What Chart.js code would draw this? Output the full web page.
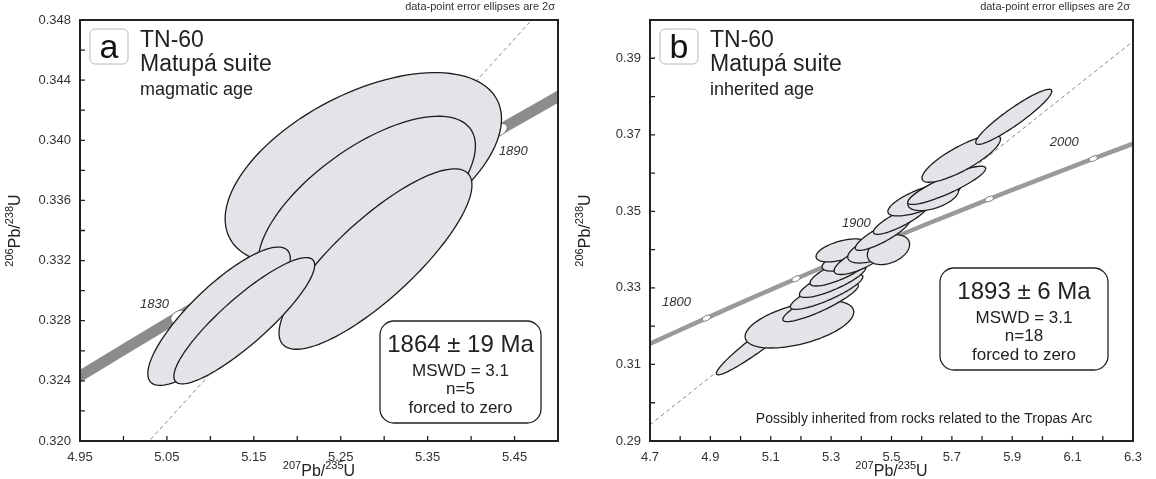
<!DOCTYPE html>
<html>
<head>
<meta charset="utf-8">
<script src="https://cdn.jsdelivr.net/npm/chart.js@4.4.1/dist/chart.umd.min.js"></script>
<style>
  body { margin: 0; background: #fff; width: 1156px; height: 479px; overflow: hidden; position: relative; }
  .panel { position: absolute; top: 0; height: 479px; }
  #panel-a { left: 0; width: 578px; }
  #panel-b { left: 560px; width: 596px; }
</style>
</head>
<body>
<div class="panel" id="panel-a"><canvas id="chart-a" width="578" height="479"></canvas></div>
<div class="panel" id="panel-b"><canvas id="chart-b" width="596" height="479"></canvas></div>
<script>
// concordia (Ma -> 207Pb/235U, 206Pb/238U)
const concordiaAge = [1760, 1780, 1800, 1820, 1830, 1840, 1850, 1860, 1880, 1890, 1900, 1920, 1940, 1950, 1960, 1980, 2000, 2020];
const concordiaX = [4.6595, 4.7721, 4.8869, 5.004, 5.0634, 5.1234, 5.184, 5.2452, 5.3695, 5.4325, 5.4962, 5.6254, 5.7572, 5.824, 5.8916, 6.0287, 6.1685, 6.3111];
const concordiaY = [0.31393, 0.31801, 0.32211, 0.32621, 0.32827, 0.33033, 0.3324, 0.33447, 0.33861, 0.34069, 0.34278, 0.34695, 0.35113, 0.35323, 0.35533, 0.35954, 0.36377, 0.368];

// panel a: magmatic age, 2 sigma ellipses
const magX = [5.276, 5.28, 5.29, 5.11, 5.139];
const magY = [0.3381, 0.3358, 0.3321, 0.3283, 0.328];
const magErrX = [0.159, 0.125, 0.111, 0.082, 0.081];
const magErrY = [0.0064, 0.0058, 0.006, 0.0046, 0.0042];
const magRho = [0.52, 0.66, 0.82, 0.83, 0.88];
const magMarkers = [1830, 1860, 1890];
const magIntercept = [5.2701, 0.3353]; // 1864 Ma

// panel b: inherited age
const inhX = [5.074, 5.195, 5.265, 5.285, 5.305, 5.33, 5.345, 5.335, 5.4, 5.44, 5.49, 5.47, 5.53, 5.608, 5.638, 5.683, 5.731, 5.905];
const inhY = [0.3165, 0.3205, 0.3262, 0.329, 0.3318, 0.3345, 0.3372, 0.3398, 0.3375, 0.34, 0.34, 0.344, 0.348, 0.3532, 0.3537, 0.3568, 0.3638, 0.3747];
const inhErrX = [0.154, 0.18, 0.125, 0.12, 0.11, 0.1, 0.075, 0.085, 0.09, 0.085, 0.07, 0.09, 0.09, 0.12, 0.084, 0.129, 0.13, 0.126];
const inhErrY = [0.0092, 0.0062, 0.005, 0.0046, 0.0043, 0.004, 0.0028, 0.003, 0.004, 0.0035, 0.0039, 0.0042, 0.004, 0.0044, 0.0035, 0.005, 0.0062, 0.0072];
const inhRho = [0.96, 0.52, 0.88, 0.85, 0.82, 0.8, 0.6, 0.53, 0.75, 0.55, 0.35, 0.85, 0.85, 0.73, 0.5, 0.88, 0.82, 0.93];
const inhMarkers = [1800, 1850, 1900, 1950, 2000];
const inhIntercept = [5.4519, 0.34132]; // 1893 Ma

// axis ticks
const xTicksA = [4.95, 5.05, 5.15, 5.25, 5.35, 5.45];
const xMinorA = [5.0, 5.1, 5.2, 5.3, 5.4];
const yTicksA = [0.32, 0.324, 0.328, 0.332, 0.336, 0.34, 0.344, 0.348];
const yMinorA = [0.322, 0.326, 0.33, 0.334, 0.338, 0.342, 0.346];
const xTicksB = [4.7, 4.9, 5.1, 5.3, 5.5, 5.7, 5.9, 6.1, 6.3];
const xMinorB = [4.8, 5.0, 5.2, 5.4, 5.6, 5.8, 6.0, 6.2];
const yTicksB = [0.29, 0.31, 0.33, 0.35, 0.37, 0.39];
const yMinorB = [0.3, 0.32, 0.34, 0.36, 0.38];

const FONT = '"Liberation Sans", Arial, sans-serif';

function ellipsePath(ctx, xs, ys, cx, cy, ex, ey, rho) {
  const k = Math.sqrt(1 - rho * rho);
  ctx.beginPath();
  for (let i = 0; i <= 120; i++) {
    const t = (i / 120) * Math.PI * 2;
    const px = xs.getPixelForValue(cx + ex * Math.cos(t));
    const py = ys.getPixelForValue(cy + ey * (rho * Math.cos(t) + k * Math.sin(t)));
    if (i === 0) ctx.moveTo(px, py);
    else ctx.lineTo(px, py);
  }
  ctx.closePath();
}

function supText(ctx, parts, size) {
  // parts: [text, isSuperscript]
  const w = parts.reduce((s, [t, sup]) => {
    ctx.font = `${sup ? Math.round(size * 0.68) : size}px ${FONT}`;
    return s + ctx.measureText(t).width;
  }, 0);
  let x = -w / 2;
  parts.forEach(([t, sup]) => {
    ctx.font = `${sup ? Math.round(size * 0.68) : size}px ${FONT}`;
    ctx.fillText(t, x, sup ? -size * 0.42 : 0);
    x += ctx.measureText(t).width;
  });
}

const concordiaPlot = {
  id: "concordiaPlot",
  afterDatasetsDraw(chart, args, opts) {
    const { ctx, chartArea: area } = chart;
    const xs = chart.scales.x;
    const ys = chart.scales.y;

    ctx.save();
    ctx.beginPath();
    ctx.rect(area.left, area.top, area.width, area.height);
    ctx.clip();

    // age markers on the concordia
    opts.markers.forEach((age) => {
      const i = concordiaAge.indexOf(age);
      const px = xs.getPixelForValue(concordiaX[i]);
      const py = ys.getPixelForValue(concordiaY[i]);
      const ang = Math.atan2(
        ys.getPixelForValue(concordiaY[i + 1]) - ys.getPixelForValue(concordiaY[i - 1]),
        xs.getPixelForValue(concordiaX[i + 1]) - xs.getPixelForValue(concordiaX[i - 1]),
      );
      ctx.beginPath();
      ctx.ellipse(px, py, opts.markerSize[0], opts.markerSize[1], ang, 0, Math.PI * 2);
      ctx.fillStyle = "#fff";
      ctx.fill();
      ctx.strokeStyle = "#666";
      ctx.lineWidth = 0.8;
      ctx.stroke();
    });

    ctx.fillStyle = "#333";
    ctx.font = `italic ${opts.ageFont}px ${FONT}`;
    ctx.textAlign = "center";
    ctx.textBaseline = "middle";
    opts.ageLabels.forEach(([age, dx, dy]) => {
      const i = concordiaAge.indexOf(age);
      ctx.fillText(String(age), xs.getPixelForValue(concordiaX[i]) + dx, ys.getPixelForValue(concordiaY[i]) + dy);
    });

    // error ellipses
    const s = opts.spots;
    s.x.forEach((cx, i) => {
      ellipsePath(ctx, xs, ys, cx, s.y[i], s.ex[i], s.ey[i], s.rho[i]);
      ctx.fillStyle = "#e2e4e7";
      ctx.fill();
      ctx.strokeStyle = "#1c1c1c";
      ctx.lineWidth = 1.3;
      ctx.stroke();
    });
    ctx.restore();

    ctx.save();
    // frame
    ctx.strokeStyle = "#222";
    ctx.lineWidth = 2;
    ctx.strokeRect(area.left, area.top, area.width, area.height);

    // inward ticks
    ctx.lineWidth = 1.3;
    ctx.beginPath();
    opts.xTicks.concat(opts.xMinor).forEach((v) => {
      const px = xs.getPixelForValue(v);
      ctx.moveTo(px, area.bottom);
      ctx.lineTo(px, area.bottom - 5);
    });
    opts.yTicks.concat(opts.yMinor).forEach((v) => {
      const py = ys.getPixelForValue(v);
      ctx.moveTo(area.left, py);
      ctx.lineTo(area.left + 5, py);
    });
    ctx.stroke();

    // tick labels
    ctx.fillStyle = "#333";
    ctx.font = `13px ${FONT}`;
    ctx.textBaseline = "middle";
    ctx.textAlign = "center";
    opts.xTicks.forEach((v) => ctx.fillText(v.toFixed(opts.xDigits), xs.getPixelForValue(v), area.bottom + 16));
    ctx.textAlign = "right";
    opts.yTicks.forEach((v) => ctx.fillText(v.toFixed(opts.yDigits), area.left - 9, ys.getPixelForValue(v)));

    // axis titles
    ctx.fillStyle = "#222";
    ctx.textAlign = "left";
    ctx.textBaseline = "alphabetic";
    ctx.save();
    ctx.translate((area.left + area.right) / 2, area.bottom + 35);
    supText(ctx, [["207", true], ["Pb/", false], ["235", true], ["U", false]], 16);
    ctx.restore();
    ctx.save();
    ctx.translate(area.left - 60, (area.top + area.bottom) / 2);
    ctx.rotate(-Math.PI / 2);
    supText(ctx, [["206", true], ["Pb/", false], ["238", true], ["U", false]], 16);
    ctx.restore();

    // note above the frame
    ctx.fillStyle = "#333";
    ctx.font = `11px ${FONT}`;
    ctx.textAlign = "right";
    ctx.fillText("data-point error ellipses are 2\u03c3", area.right - 3, area.top - 10);

    // panel letter
    ctx.strokeStyle = "#b8b8b8";
    ctx.lineWidth = 1;
    ctx.beginPath();
    ctx.roundRect(area.left + 10, area.top + 9, 38, 35, 5);
    ctx.stroke();
    ctx.fillStyle = "#111";
    ctx.font = `34px ${FONT}`;
    ctx.textAlign = "center";
    ctx.fillText(opts.letter, area.left + 29, area.top + 38);

    // sample title
    ctx.textAlign = "left";
    ctx.fillStyle = "#222";
    ctx.font = `23px ${FONT}`;
    ctx.fillText("TN-60", area.left + 60, area.top + 27);
    ctx.fillText("Matup\u00e1 suite", area.left + 60, area.top + 51);
    ctx.font = `18px ${FONT}`;
    ctx.fillText(opts.subtitle, area.left + 60, area.top + 75);

    // result box
    const [bx, by, bw, bh] = opts.box;
    ctx.strokeStyle = "#222";
    ctx.lineWidth = 1.3;
    ctx.beginPath();
    ctx.roundRect(area.left + bx, area.top + by, bw, bh, 14);
    ctx.stroke();
    ctx.textAlign = "center";
    ctx.textBaseline = "middle";
    const cxBox = area.left + bx + bw / 2;
    ctx.font = `24px ${FONT}`;
    ctx.fillText(opts.result[0], cxBox, area.top + by + 24);
    ctx.font = `17px ${FONT}`;
    ctx.fillText(opts.result[1], cxBox, area.top + by + 50);
    ctx.fillText(opts.result[2], cxBox, area.top + by + 68);
    ctx.fillText(opts.result[3], cxBox, area.top + by + 87);

    if (opts.note) {
      ctx.font = `14px ${FONT}`;
      ctx.fillText(opts.note, area.left + 274, area.bottom - 22);
    }
    ctx.restore();
  },
};

function makeChart(id, cfg) {
  const band = concordiaX.map((x, i) => ({ x, y: concordiaY[i] }));
  const slope = cfg.intercept[1] / cfg.intercept[0];
  const ref = [cfg.xRange[0], cfg.xRange[1]].map((x) => ({ x, y: x * slope }));
  return new Chart(document.getElementById(id), {
    type: "scatter",
    data: {
      datasets: [
        { data: ref, showLine: true, borderColor: "#8a8a8a", borderWidth: 1, borderDash: [4, 3], pointRadius: 0, clip: 0, order: 1 },
        { data: band, showLine: true, borderColor: cfg.bandColor, borderWidth: cfg.bandWidth, pointRadius: 0, clip: 0, order: 2 },
      ],
    },
    options: {
      responsive: false,
      animation: false,
      devicePixelRatio: 1,
      events: [],
      layout: { padding: cfg.padding },
      scales: {
        x: { type: "linear", display: false, min: cfg.xRange[0], max: cfg.xRange[1] },
        y: { type: "linear", display: false, min: cfg.yRange[0], max: cfg.yRange[1] },
      },
      plugins: { legend: { display: false }, tooltip: { enabled: false }, concordiaPlot: cfg },
    },
    plugins: [concordiaPlot],
  });
}

makeChart("chart-a", {
  padding: { left: 80, right: 20, top: 20, bottom: 38 },
  xRange: [4.95, 5.5],
  yRange: [0.32, 0.348],
  intercept: magIntercept,
  bandColor: "#8c8c8c",
  bandWidth: 11,
  markers: magMarkers,
  markerSize: [8.5, 5.5],
  ageFont: 13,
  ageLabels: [[1830, -24, -12], [1890, 14, 21]],
  spots: { x: magX, y: magY, ex: magErrX, ey: magErrY, rho: magRho },
  xTicks: xTicksA, xMinor: xMinorA, yTicks: yTicksA, yMinor: yMinorA,
  xDigits: 2, yDigits: 3,
  letter: "a",
  subtitle: "magmatic age",
  box: [300, 301, 161, 102],
  result: ["1864 \u00b1 19 Ma", "MSWD = 3.1", "n=5", "forced to zero"],
});

makeChart("chart-b", {
  padding: { left: 90, right: 23, top: 20, bottom: 38 },
  xRange: [4.7, 6.3],
  yRange: [0.29, 0.4],
  intercept: inhIntercept,
  bandColor: "#9a9a9a",
  bandWidth: 4.5,
  markers: inhMarkers,
  markerSize: [4.5, 2.5],
  ageFont: 13,
  ageLabels: [[1800, -30, -16], [1900, -34, -16], [2000, -29, -16]],
  spots: { x: inhX, y: inhY, ex: inhErrX, ey: inhErrY, rho: inhRho },
  xTicks: xTicksB, xMinor: xMinorB, yTicks: yTicksB, yMinor: yMinorB,
  xDigits: 1, yDigits: 2,
  letter: "b",
  subtitle: "inherited age",
  box: [290, 248, 168, 102],
  result: ["1893 \u00b1 6 Ma", "MSWD = 3.1", "n=18", "forced to zero"],
  note: "Possibly inherited from rocks related to the Tropas Arc",
});
</script>
</body>
</html>
